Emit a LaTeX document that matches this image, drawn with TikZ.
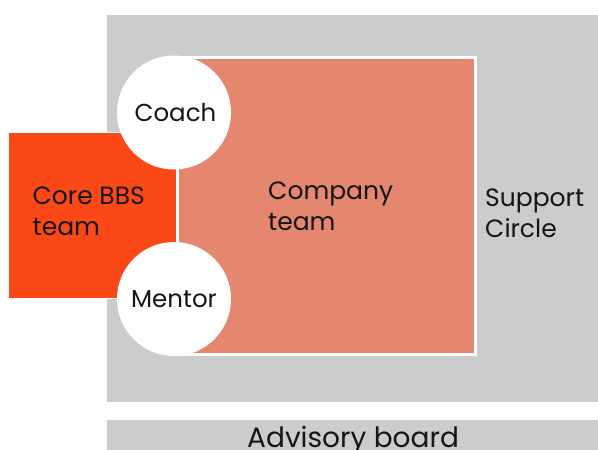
\documentclass[tikz,border=0pt]{standalone}
\usepackage{fontspec}
\setmainfont{Poppins}
\begin{document}
\definecolor{circlegray}{HTML}{CCCCCC}
\definecolor{companysalmon}{HTML}{E5866E}
\definecolor{coreorange}{HTML}{FA4917}
\definecolor{inkblack}{HTML}{151515}
\begin{tikzpicture}[x=1pt,y=-1pt,
  panel/.style={anchor=north west,inner sep=0pt,outer sep=0pt,draw=none},
  % two-line labels: the base anchor sits on the second line's baseline
  label/.style={anchor=base west,inner sep=0pt,align=left,text=inkblack,
    font=\fontsize{25}{31}\selectfont},
  roletext/.style={anchor=base,inner sep=0pt,text=inkblack,
    font=\fontsize{24.5}{31}\selectfont},
  role/.style={circle,fill=white,draw=none,minimum size=114pt,inner sep=0pt}]
  \useasboundingbox (0,0) rectangle (598,450);
  % support circle backdrop and advisory board strip
  \node[panel,fill=circlegray,minimum width=491pt,minimum height=387pt] (support) at (107,15) {};
  \node[panel,fill=circlegray,minimum width=491pt,minimum height=30pt] (advisory) at (107,420) {};
  % company team block with white rim
  \node[panel,fill=companysalmon,draw=white,line width=3.5pt,
        minimum width=298pt,minimum height=297pt] (company) at (177.5,57.5) {};
  % core team block
  \node[panel,fill=coreorange,draw=white,line width=0.8pt,
        minimum width=168pt,minimum height=166pt] (core) at (8,132) {};
  % coach and mentor discs
  \node[role] (coach) at (174,112.5) {};
  \node[role] (mentor) at (174,299) {};
  % labels
  \node[roletext] (coachtxt) at (175.5,121) {Coach};
  \node[roletext] (mentortxt) at (174,307) {Mentor};
  \node[label] (coretxt) at (32.5,235) {Core BBS\\team};
  \node[label] (companytxt) at (268,230) {Company\\team};
  \node[label] (supporttxt) at (485,237) {Support\\Circle};
  \node[anchor=base west,inner sep=0pt,text=inkblack,font=\fontsize{28}{31}\selectfont] (advisorytxt) at (247,447) {Advisory board};
\end{tikzpicture}
\end{document}
